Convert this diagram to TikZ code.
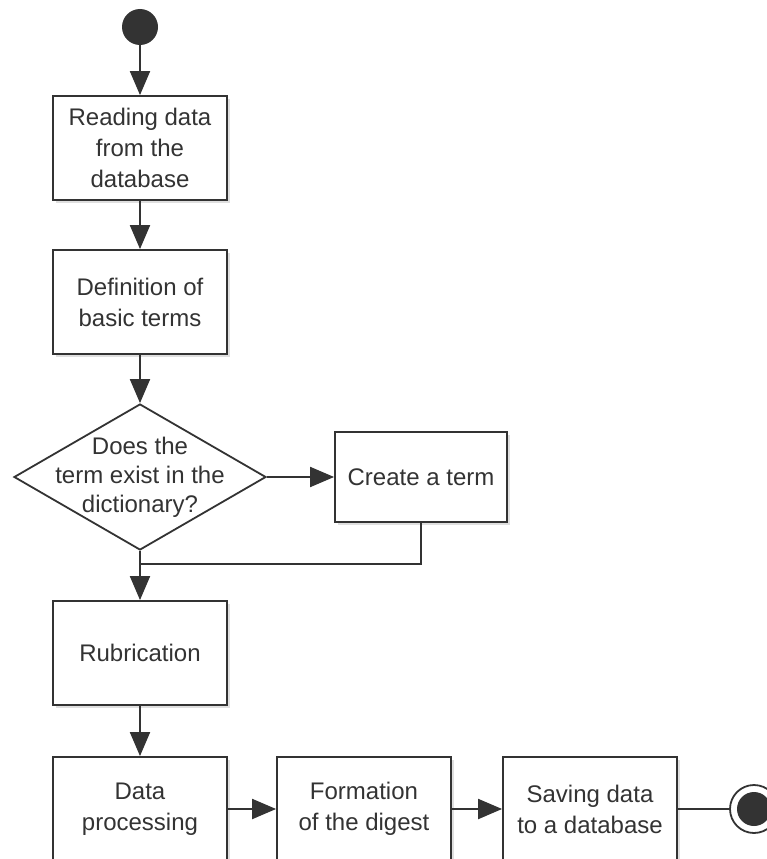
\documentclass[tikz,border=0pt]{standalone}
\usepackage{fontspec}
\setmainfont{Liberation Sans}
\usetikzlibrary{shapes.geometric,arrows.meta,shadows}
\definecolor{ink}{HTML}{333333}

\begin{document}
\begin{tikzpicture}[x=1pt,y=-1pt,
  box/.style={rectangle, draw=ink, line width=1.8pt, fill=white, text=ink,
    minimum width=174pt, minimum height=104pt, align=center,
    font=\fontsize{24}{31}\selectfont,
    drop shadow={shadow xshift=3pt, shadow yshift=-3pt, opacity=0.25}},
  decision/.style={diamond, draw=ink, line width=1.8pt, fill=white, text=ink,
    minimum width=252pt, minimum height=146pt, inner sep=-30pt, align=center,
    font=\fontsize{24}{29}\selectfont},
  flow/.style={draw=ink, line width=2pt, -{Triangle[length=24pt,width=20pt]}},
  plain/.style={draw=ink, line width=2pt}]
\useasboundingbox (0,0) rectangle (767,859);
\clip (0,0) rectangle (767,859);

\node[circle, fill=ink, minimum size=36pt, inner sep=0pt] (start) at (140,27) {};
\node[box] (read) at (140,148) {Reading data\\from the\\database};
\node[box] (terms) at (140,302) {Definition of\\basic terms};
\node[decision] (ask) at (140,477) {Does the\\term exist in the\\dictionary?};
\node[box, minimum width=172pt, minimum height=90pt] (make) at (421,477) {Create a term};
\node[box] (rubric) at (140,653) {Rubrication};
\node[box] (proc) at (140,809) {Data\\processing};
\node[box] (digest) at (364,809) {Formation\\of the digest};
\node[box] (save) at (590,809) {Saving data\\to a database};
\node[circle, draw=ink, line width=1.8pt, fill=white, minimum size=48pt, inner sep=0pt,
  path picture={\fill[ink] (path picture bounding box.center) circle (17pt);}] (finish) at (754,809) {};
\coordinate (merge) at (140,564);

\draw[flow] (start) -- (read);
\draw[flow] (read) -- (terms);
\draw[flow] (terms) -- (ask);
\draw[flow] (ask) -- (make);
\draw[plain] (make.south) |- (merge);
\draw[flow] (ask.south) -- (rubric.north);
\draw[flow] (rubric) -- (proc);
\draw[flow] (proc) -- (digest);
\draw[flow] (digest) -- (save);
\draw[plain] (save) -- (finish);
\end{tikzpicture}
\end{document}
